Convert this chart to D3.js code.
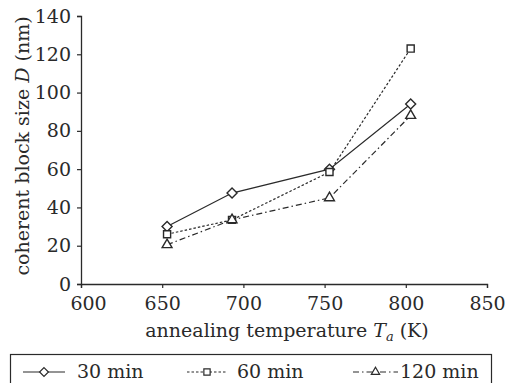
<!DOCTYPE html>
<html>
<head>
<meta charset="utf-8">
<script src="https://cdn.jsdelivr.net/npm/d3@7"></script>
<style>
  body { margin: 0; background: #fff; }
  svg { font-family: "DejaVu Serif", serif; }
</style>
</head>
<body>
<div id="chart"></div>
<script>
// data
const temps = [653, 693, 753, 803];
const min30 = [30, 47.5, 60, 94];
const min60 = [26, 33.5, 58.5, 123];
const min120 = [20.5, 33.5, 45, 88];
const seriesNames = ["30 min", "60 min", "120 min"];
const xTicks = [600, 650, 700, 750, 800, 850];
const yTicks = [0, 20, 40, 60, 80, 100, 120, 140];

const W = 505, H = 383;
const ink = "#2a2a2a";
const fs = "19px";

const svg = d3.select("#chart").append("svg")
  .attr("width", W).attr("height", H);

const x = d3.scaleLinear().domain([600, 850]).range([81, 487]);
const y = d3.scaleLinear().domain([0, 140]).range([284, 16]);

// axes
const gx = svg.append("g")
  .attr("transform", "translate(0," + y(0) + ")")
  .call(d3.axisBottom(x).tickValues(xTicks).tickSize(4).tickPadding(9));
const gy = svg.append("g")
  .attr("transform", "translate(" + x(600) + ",0)")
  .call(d3.axisLeft(y).tickValues(yTicks).tickSize(4).tickPadding(6));

[gx, gy].forEach(g => {
  g.select(".domain").attr("stroke", ink).attr("stroke-width", 1.3);
  g.selectAll(".tick line").attr("stroke", ink).attr("stroke-width", 1.2);
  g.selectAll(".tick text").attr("fill", ink).style("font-size", fs)
    .style("font-family", "DejaVu Serif, serif");
});
// first x label sits a little to the right, clear of the "0"
gx.selectAll(".tick text").filter(d => d === 600).attr("dx", 7);

// axis titles
const xt = svg.append("text")
  .attr("x", 287).attr("y", 337)
  .attr("text-anchor", "middle")
  .attr("fill", ink).style("font-size", fs);
xt.append("tspan").text("annealing temperature ");
xt.append("tspan").style("font-style", "italic").text("T");
xt.append("tspan").style("font-style", "italic").style("font-size", "13px").attr("dy", 4).text("a");
xt.append("tspan").attr("dy", -4).text(" (K)");

const yt = svg.append("text")
  .attr("transform", "translate(29,146) rotate(-90)")
  .attr("text-anchor", "middle")
  .attr("fill", ink).style("font-size", fs);
yt.append("tspan").text("coherent block size ");
yt.append("tspan").style("font-style", "italic").text("D");
yt.append("tspan").text(" (nm)");

// series
const series = [
  { name: seriesNames[0], vals: min30, dash: null, shape: d3.symbolDiamond2 },
  { name: seriesNames[1], vals: min60, dash: "2.5,2", shape: d3.symbolSquare2 },
  { name: seriesNames[2], vals: min120, dash: "6,3,1.5,3", shape: d3.symbolTriangle2 }
];

const line = d3.line().x(d => x(d[0])).y(d => y(d[1]));

series.forEach(s => {
  const pts = temps.map((t, i) => [t, s.vals[i]]);
  svg.append("path")
    .datum(pts)
    .attr("fill", "none")
    .attr("stroke", ink)
    .attr("stroke-width", 1.2)
    .attr("stroke-dasharray", s.dash)
    .attr("d", line);
});

series.forEach(s => {
  const pts = temps.map((t, i) => [t, s.vals[i]]);
  svg.selectAll(null)
    .data(pts)
    .join("path")
    .attr("transform", d => "translate(" + x(d[0]) + "," + y(d[1]) + ")")
    .attr("d", d3.symbol().type(s.shape).size(s.shape === d3.symbolTriangle2 ? 70 : 64))
    .attr("fill", "#fff")
    .attr("stroke", ink)
    .attr("stroke-width", 1.4);
});

// legend
svg.append("rect")
  .attr("x", 10.5).attr("y", 354.5)
  .attr("width", 481).attr("height", 40)
  .attr("fill", "none").attr("stroke", ink).attr("stroke-width", 1.2);

const legLine = [[23, 65], [187, 227], [353, 398]];
const legText = [77, 237, 400];
series.forEach((s, i) => {
  const [a, b] = legLine[i];
  svg.append("line")
    .attr("x1", a).attr("x2", b).attr("y1", 372).attr("y2", 372)
    .attr("stroke", ink).attr("stroke-width", 1.2)
    .attr("stroke-dasharray", s.dash);
  svg.append("path")
    .attr("transform", "translate(" + ((a + b) / 2) + ",372)")
    .attr("d", d3.symbol().type(s.shape).size(50))
    .attr("fill", "#fff").attr("stroke", ink).attr("stroke-width", 1.2);
  svg.append("text")
    .attr("x", legText[i]).attr("y", 378)
    .attr("fill", ink).style("font-size", fs)
    .text(s.name);
});
</script>
</body>
</html>
